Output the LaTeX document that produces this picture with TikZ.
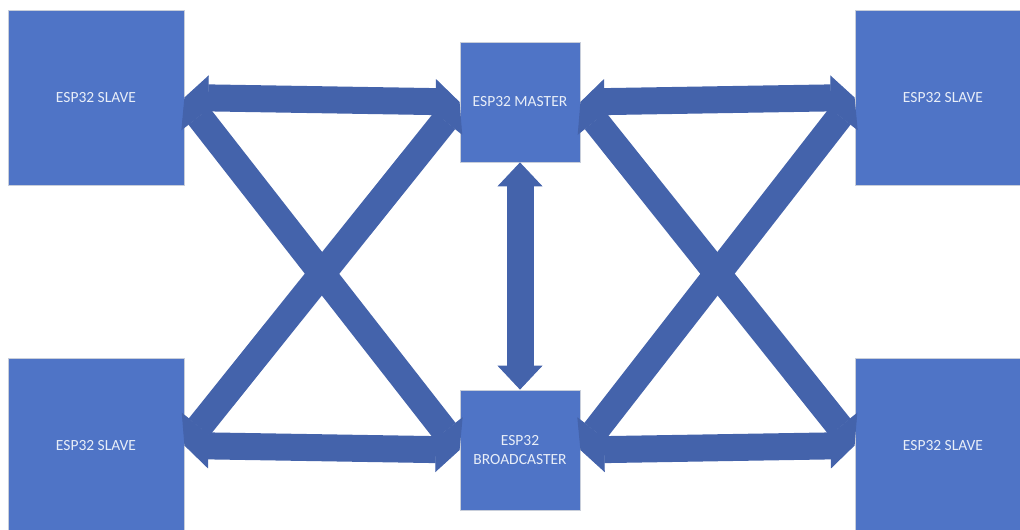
\documentclass[tikz,border=0pt]{standalone}
\usepackage{fontspec}
\setmainfont{Carlito}
\usetikzlibrary{arrows.meta}
\definecolor{boxblue}{RGB}{79,116,198}
\definecolor{linkblue}{RGB}{68,99,171}
\definecolor{edgegray}{RGB}{200,206,218}
\definecolor{textwhite}{RGB}{232,238,248}

\begin{document}
\begin{tikzpicture}[x=1pt,y=-1pt,
  esp/.style={draw=edgegray, line width=0.8pt, fill=boxblue, text=textwhite,
    font=\fontsize{15.5}{19.5}\selectfont, align=center, inner sep=0pt},
  slave/.style={esp, minimum width=176pt, minimum height=175pt},
  hub/.style={esp, minimum size=120pt},
  link/.style={linkblue, line width=27pt,
    arrows={Triangle[width=45pt,length=24pt,line width=1pt]-Triangle[width=45pt,length=24pt,line width=1pt]}}]
\useasboundingbox (0,0) rectangle (1020,530);
\clip (0,0) rectangle (1020,530);
% boxes
\node[slave] (tl) at (96,97.5) {ESP32 SLAVE};
\node[slave] (bl) at (96,445.5) {ESP32 SLAVE};
\node[slave] (tr) at (943,97.5) {ESP32 SLAVE};
\node[slave] (br) at (943,445.5) {ESP32 SLAVE};
\node[hub] (master) at (520,102) {ESP32 MASTER};
\node[hub] (bcast) at (520,450) {ESP32\\BROADCASTER};
% links
\draw[link] (tl.east) -- (master.west);
\draw[link] (bl.east) -- (bcast.west);
\draw[link] (tl.east) -- (bcast.west);
\draw[link] (bl.east) -- (master.west);
\draw[link] (master.east) -- (tr.west);
\draw[link] (bcast.east) -- (br.west);
\draw[link] (master.east) -- (br.west);
\draw[link] (bcast.east) -- (tr.west);
\draw[link] (master.south) -- (bcast.north);
\end{tikzpicture}
\end{document}
